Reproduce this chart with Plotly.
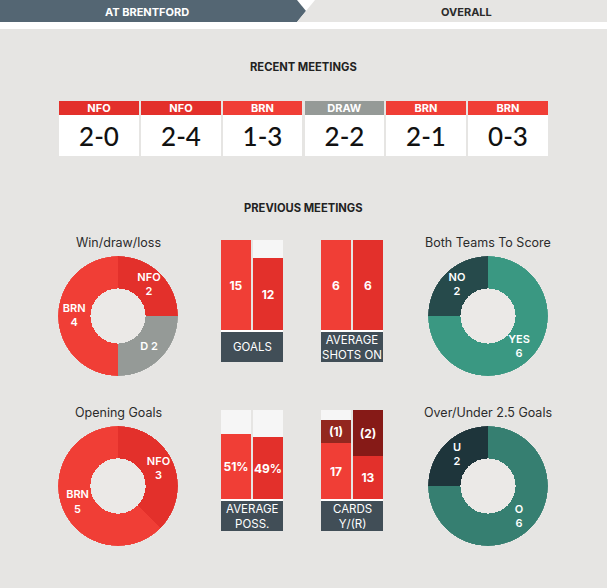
import plotly.graph_objects as go

W, H = 607, 588

# ---------------- data ----------------
tabs = ["AT BRENTFORD", "OVERALL"]
recent_winner = ["NFO", "NFO", "BRN", "DRAW", "BRN", "BRN"]
recent_score = ["2-0", "2-4", "1-3", "2-2", "2-1", "0-3"]

wdl_labels = ["NFO", "D", "BRN"]
wdl_values = [2, 2, 4]
btts_labels = ["YES", "NO"]
btts_values = [6, 2]
open_labels = ["NFO", "BRN"]
open_values = [3, 5]
ou_labels = ["O", "U"]
ou_values = [6, 2]

teams = ["BRN", "NFO"]
goals = [15, 12]
shots_on = [6, 6]
possession = [51, 49]
cards_yellow = [17, 13]
cards_red = [1, 2]

# ---------------- style ----------------
FONT = "Inter"
BG = "#E6E5E3"
C_BRN = "#F03E36"
C_NFO = "#E3302B"
C_DRAW = "#959A97"
C_LIGHT = "#F6F6F6"
C_LABEL = "#414E57"
C_RED_CARD = ["#93271F", "#861A17"]
RED_WEIGHT = 7  # visual weight of a red card in the cards bar
HOLE = 0.46
team_colors = {"BRN": C_BRN, "NFO": C_NFO, "DRAW": C_DRAW}


def px(x):
    return x / W


def py(y):
    return 1 - y / H


fig = go.Figure()
shapes = []
ann = []
layout_extra = {}

# background and tabs
shapes.append(dict(type="rect", xref="paper", yref="paper", x0=0, x1=1, y0=py(29), y1=1,
                   fillcolor="white", line_width=0, layer="below"))


def path(points):
    return "M " + " L ".join(f"{px(a):.5f},{py(b):.5f}" for a, b in points) + " Z"


shapes.append(dict(type="path", xref="paper", yref="paper",
                   path=path([(0, 0), (297, 0), (306, 11), (297, 22), (0, 22)]),
                   fillcolor="#546673", line_width=0, layer="below"))
shapes.append(dict(type="path", xref="paper", yref="paper",
                   path=path([(315, 0), (607, 0), (607, 22), (297, 22)]),
                   fillcolor="#E6E5E3", line_width=0, layer="below"))
ann.append(dict(x=px(147), y=py(12), text=f"<b>{tabs[0]}</b>", font=dict(color="white", size=11, family=FONT)))
ann.append(dict(x=px(467), y=py(12), text=f"<b>{tabs[1]}</b>", font=dict(color="#2B2B2B", size=11, family=FONT)))

ann.append(dict(x=0.5, y=py(67), text="<b>RECENT MEETINGS</b>", font=dict(color="#222", size=11.2, family=FONT)))
ann.append(dict(x=0.5, y=py(208), text="<b>PREVIOUS MEETINGS</b>", font=dict(color="#222", size=11.2, family=FONT)))


def add_axes(idx, xdom, ydom, xrange, yrange):
    xa = "xaxis" if idx == 1 else f"xaxis{idx}"
    ya = "yaxis" if idx == 1 else f"yaxis{idx}"
    yanchor = "y" if idx == 1 else f"y{idx}"
    xanchor = "x" if idx == 1 else f"x{idx}"
    layout_extra[xa] = dict(domain=xdom, range=xrange, visible=False, fixedrange=True, anchor=yanchor)
    layout_extra[ya] = dict(domain=ydom, range=yrange, visible=False, fixedrange=True, anchor=xanchor)
    return xanchor, yanchor


# ---------------- recent meetings ----------------
SCORE_H, HEAD_H = 41, 14
xr, yr = add_axes(1, [px(58), px(549)], [py(156), py(101)], [-0.5, 5.5], [0, SCORE_H + HEAD_H])
idx = list(range(len(recent_score)))
fig.add_trace(go.Bar(x=idx, y=[SCORE_H] * len(idx), base=0, width=0.975, marker=dict(color="white", line_width=0),
                     text=recent_score, textposition="inside", insidetextanchor="middle", constraintext="none",
                     textfont=dict(color="#111", size=26, family="Lato", weight=500), textangle=0,
                     xaxis=xr, yaxis=yr, hoverinfo="skip", showlegend=False))
fig.add_trace(go.Bar(x=idx, y=[HEAD_H] * len(idx), base=SCORE_H, width=0.975,
                     marker=dict(color=[team_colors[w] for w in recent_winner], line_width=0),
                     text=recent_winner, textposition="inside", insidetextanchor="middle", constraintext="none",
                     textfont=dict(color="white", size=11, family=FONT, weight="bold"), textangle=0,
                     xaxis=xr, yaxis=yr, hoverinfo="skip", showlegend=False))

# ---------------- donuts (polar bars, clockwise from 12 o'clock) ----------------
polar_n = [0]


def donut(labels, values, colors, cx, cy, title, seps):
    r = 60
    dom_x = [px(cx - r), px(cx + r)]
    dom_y = [py(cy + r), py(cy - r)]
    polar_n[0] += 1
    pname = "polar" if polar_n[0] == 1 else f"polar{polar_n[0]}"
    total = sum(values)
    mids, spans, cum = [], [], 0
    for v in values:
        mids.append(360 * (cum + v / 2) / total)
        spans.append(360 * v / total)
        cum += v
    fig.add_trace(go.Barpolar(theta=mids, width=spans, r=[1 - HOLE] * len(values), base=HOLE,
                              marker=dict(color=colors, line=dict(width=0)),
                              subplot=pname, hoverinfo="skip", showlegend=False))
    texts = [f"{l}{s}{v}" for l, v, s in zip(labels, values, seps)]
    fig.add_trace(go.Scatterpolar(theta=mids, r=[(1 + HOLE) / 2] * len(values), mode="text", text=texts,
                                  textfont=dict(color="white", size=11, family=FONT, weight=600),
                                  subplot=pname, hoverinfo="skip", showlegend=False))
    layout_extra[pname] = dict(domain=dict(x=dom_x, y=dom_y), bgcolor="rgba(0,0,0,0)",
                               radialaxis=dict(visible=False, range=[0, 1]),
                               angularaxis=dict(visible=False, rotation=90, direction="clockwise"))
    hr = r * HOLE
    shapes.append(dict(type="circle", xref="paper", yref="paper", x0=px(cx - hr), x1=px(cx + hr),
                       y0=py(cy + hr), y1=py(cy - hr), fillcolor="#EBE9E7", line_width=0, layer="below"))
    ann.append(dict(x=px(cx), y=py(cy - 74), text=title, font=dict(color="#2B2B2B", size=12.5, family=FONT)))


donut(wdl_labels, wdl_values, [C_NFO, C_DRAW, C_BRN], 118, 316, "Win/draw/loss", ["<br>", " ", "<br>"])
donut(btts_labels, btts_values, ["#3A9882", "#264A4B"], 488, 316, "Both Teams To Score", ["<br>", "<br>"])
donut(open_labels, open_values, [C_NFO, C_BRN], 118, 486, "Opening Goals", ["<br>", "<br>"])
donut(ou_labels, ou_values, ["#367F71", "#1E353B"], 488, 486, "Over/Under 2.5 Goals", ["<br>", "<br>"])


# ---------------- bar panels ----------------
def panel(idx_ax, x0, top, bottom, ymax, values, label, texts=None):
    xa, ya = add_axes(idx_ax, [px(x0), px(x0 + 64)], [py(bottom), py(top)], [-0.5, 1.5], [0, ymax])
    fig.add_trace(go.Bar(x=[0, 1], y=[ymax, ymax], width=0.9375, marker=dict(color=C_LIGHT, line_width=0),
                         xaxis=xa, yaxis=ya, hoverinfo="skip", showlegend=False))
    fig.add_trace(go.Bar(x=[0, 1], y=values, width=0.9375,
                         marker=dict(color=[team_colors[t] for t in teams], line_width=0),
                         text=texts if texts is not None else [str(v) for v in values],
                         textposition="inside", insidetextanchor="middle", constraintext="none", textangle=0,
                         textfont=dict(color="white", size=12, family=FONT, weight="bold"),
                         xaxis=xa, yaxis=ya, hoverinfo="skip", showlegend=False))
    shapes.append(dict(type="rect", xref="paper", yref="paper", x0=px(x0 + 1), x1=px(x0 + 63),
                       y0=py(bottom + 32), y1=py(bottom), fillcolor="white", line_width=0, layer="below"))
    shapes.append(dict(type="rect", xref="paper", yref="paper", x0=px(x0 + 1), x1=px(x0 + 63),
                       y0=py(bottom + 32), y1=py(bottom + 2), fillcolor=C_LABEL, line_width=0, layer="below"))
    ann.append(dict(x=px(x0 + 32), y=py(bottom + 17), text=label,
                    font=dict(color="white", size=11.5, family=FONT)))
    return xa, ya


panel(2, 220, 240, 330, max(goals), goals, "GOALS")
panel(3, 320, 240, 330, max(shots_on), shots_on, "AVERAGE<br>SHOTS ON")
panel(4, 220, 410, 499, 70, possession, "AVERAGE<br>POSS.", [f"{v}%" for v in possession])
card_tot = [y + r * RED_WEIGHT for y, r in zip(cards_yellow, cards_red)]
xa5, ya5 = panel(5, 320, 410, 499, max(card_tot), cards_yellow, "CARDS<br>Y/(R)")
fig.add_trace(go.Bar(x=[0, 1], y=[r * RED_WEIGHT for r in cards_red], base=cards_yellow, width=0.9375,
                     marker=dict(color=C_RED_CARD, line_width=0), text=[f"({r})" for r in cards_red],
                     textposition="inside", insidetextanchor="middle", constraintext="none", textangle=0,
                     textfont=dict(color="white", size=12, family=FONT, weight="bold"),
                     xaxis=xa5, yaxis=ya5, hoverinfo="skip", showlegend=False))

for a in ann:
    a.update(xref="paper", yref="paper", showarrow=False, xanchor="center", yanchor="middle")

fig.update_layout(width=W, height=H, margin=dict(l=0, r=0, t=0, b=0), paper_bgcolor=BG, plot_bgcolor="rgba(0,0,0,0)",
                  barmode="overlay", bargap=0, shapes=shapes, annotations=ann, showlegend=False,
                  font=dict(family=FONT), **layout_extra)
fig.write_html("out.html", config={"displayModeBar": False})
